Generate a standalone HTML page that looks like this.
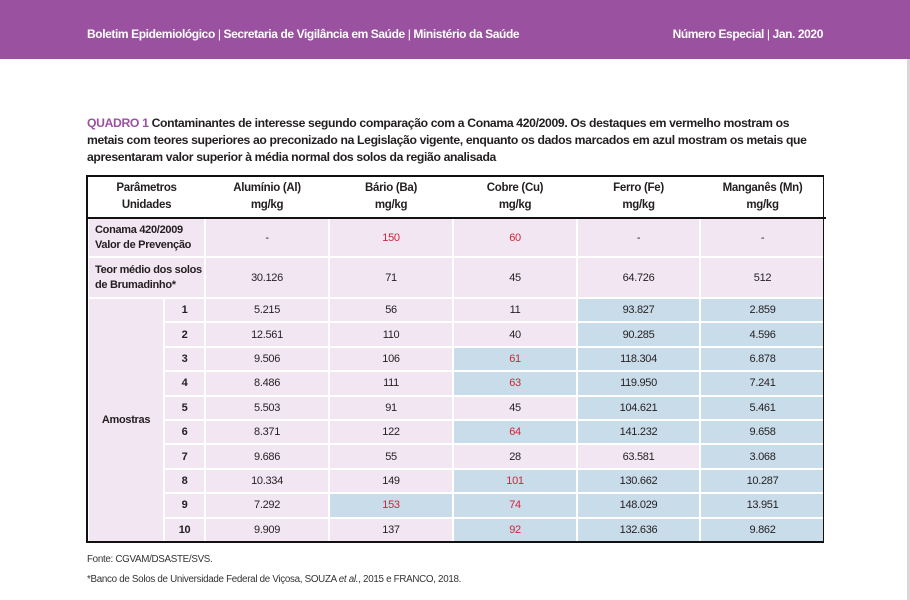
<!DOCTYPE html>
<html><head><meta charset="utf-8"><style>
*{margin:0;padding:0;box-sizing:border-box}
body{width:910px;height:600px;background:#fff;font-family:"Liberation Sans",sans-serif;position:relative;overflow:hidden;color:#231f20}
.hdr{position:absolute;left:0;top:0;width:910px;height:59px;background:#9a52a0;color:#fff;font-size:12px;letter-spacing:-0.4px;font-weight:bold}
.hdr .l{position:absolute;left:87px;top:27px}
.hdr .r{position:absolute;right:87px;top:27px}
.hdr span{font-weight:normal}
.edge{position:absolute;left:907px;top:59px;width:3px;height:541px;background:#d8d8d8}
.title{position:absolute;left:87px;top:115px;width:740px;font-size:12.2px;font-weight:bold;line-height:17px;letter-spacing:-0.35px}
.title span{color:#9a52a0}
table{position:absolute;left:87px;top:176px;width:737px;border-collapse:collapse;font-size:11px;letter-spacing:-0.3px;table-layout:fixed}
td,th{text-align:center;vertical-align:middle;border:2px solid #fff;background:#f2e6f2;padding:0}
th{background:#fff;border:none;font-weight:bold;line-height:17px;font-size:11.5px;border-bottom:2px solid #111}
tr.h th{height:42px}
.b{background:#c9dcea}
.red{color:#d0243a}
.lab{text-align:left;padding-left:6px;font-weight:bold;line-height:15px}
.n{font-weight:bold}
tr.s td{height:24.4px}
.frame{position:absolute;left:86px;top:175px;width:738px;height:368px;border:2px solid #111;border-right:1px solid #111;pointer-events:none}
.f{position:absolute;left:87px;font-size:9.8px;letter-spacing:-0.3px;color:#333}
</style></head><body>
<div class="hdr"><div class="l">Boletim Epidemiológico <span>|</span> Secretaria de Vigilância em Saúde <span>|</span> Ministério da Saúde</div><div class="r">Número Especial <span>|</span> Jan. 2020</div></div>
<div class="edge"></div>
<div class="title"><span>QUADRO 1</span> Contaminantes de interesse segundo comparação com a Conama 420/2009. Os destaques em vermelho mostram os metais com teores superiores ao preconizado na Legislação vigente, enquanto os dados marcados em azul mostram os metais que apresentaram valor superior à média normal dos solos da região analisada</div>
<table>
<colgroup><col style="width:76px"><col style="width:41px"><col style="width:124px"><col style="width:124px"><col style="width:124px"><col style="width:123px"><col style="width:125px"></colgroup>
<tr class="h"><th colspan="2">Parâmetros<br>Unidades</th><th>Alumínio (Al)<br>mg/kg</th><th>Bário (Ba)<br>mg/kg</th><th>Cobre (Cu)<br>mg/kg</th><th>Ferro (Fe)<br>mg/kg</th><th>Manganês (Mn)<br>mg/kg</th></tr>
<tr style="height:39px"><td colspan="2" class="lab">Conama 420/2009<br>Valor de Prevenção</td><td>-</td><td class="red">150</td><td class="red">60</td><td>-</td><td>-</td></tr>
<tr style="height:41px"><td colspan="2" class="lab">Teor médio dos solos<br>de Brumadinho*</td><td>30.126</td><td>71</td><td>45</td><td>64.726</td><td>512</td></tr>
<tr class="s"><td rowspan="10" class="n">Amostras</td><td class="n">1</td><td>5.215</td><td>56</td><td>11</td><td class="b">93.827</td><td class="b">2.859</td></tr>
<tr class="s"><td class="n">2</td><td>12.561</td><td>110</td><td>40</td><td class="b">90.285</td><td class="b">4.596</td></tr>
<tr class="s"><td class="n">3</td><td>9.506</td><td>106</td><td class="b red">61</td><td class="b">118.304</td><td class="b">6.878</td></tr>
<tr class="s"><td class="n">4</td><td>8.486</td><td>111</td><td class="b red">63</td><td class="b">119.950</td><td class="b">7.241</td></tr>
<tr class="s"><td class="n">5</td><td>5.503</td><td>91</td><td>45</td><td class="b">104.621</td><td class="b">5.461</td></tr>
<tr class="s"><td class="n">6</td><td>8.371</td><td>122</td><td class="b red">64</td><td class="b">141.232</td><td class="b">9.658</td></tr>
<tr class="s"><td class="n">7</td><td>9.686</td><td>55</td><td>28</td><td>63.581</td><td class="b">3.068</td></tr>
<tr class="s"><td class="n">8</td><td>10.334</td><td>149</td><td class="b red">101</td><td class="b">130.662</td><td class="b">10.287</td></tr>
<tr class="s"><td class="n">9</td><td>7.292</td><td class="b red">153</td><td class="b red">74</td><td class="b">148.029</td><td class="b">13.951</td></tr>
<tr class="s"><td class="n">10</td><td>9.909</td><td>137</td><td class="b red">92</td><td class="b">132.636</td><td class="b">9.862</td></tr>
</table>
<div class="frame"></div>
<div class="f" style="top:554px">Fonte: CGVAM/DSASTE/SVS.</div>
<div class="f" style="top:574px">*Banco de Solos de Universidade Federal de Viçosa, SOUZA <i>et al.</i>, 2015 e FRANCO, 2018.</div>
</body></html>
